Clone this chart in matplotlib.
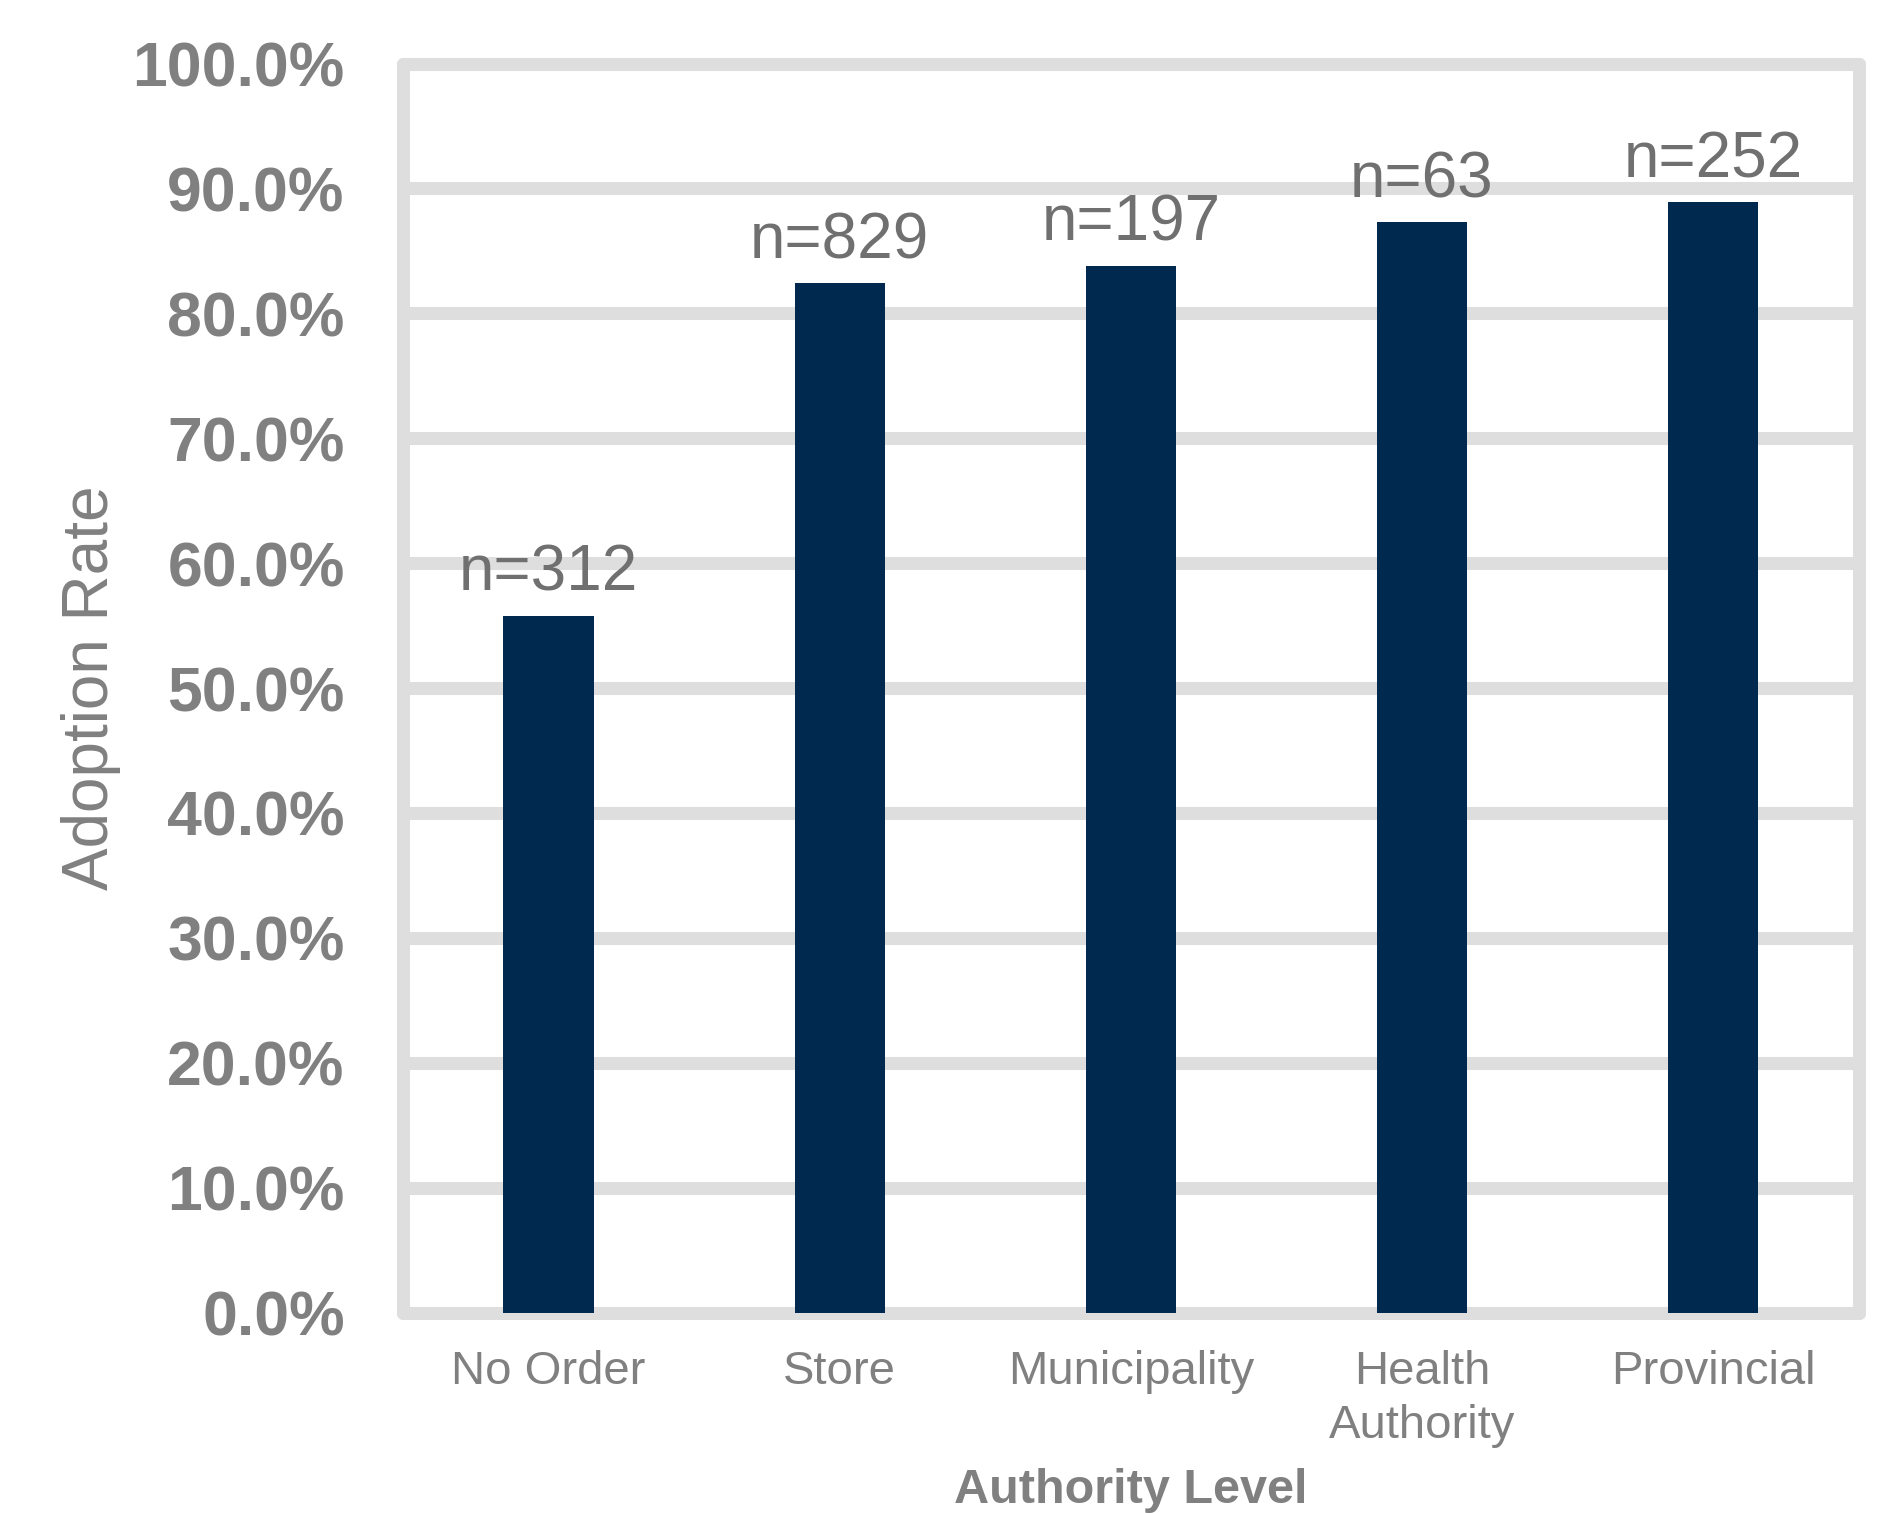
import matplotlib
matplotlib.use("Agg")
import matplotlib.pyplot as plt
from matplotlib.ticker import PercentFormatter

# adoption rate by the level of authority that issued the order
levels = ["No Order", "Store", "Municipality", "Health\nAuthority", "Provincial"]
adoption = [55.8, 82.4, 83.8, 87.3, 88.9]
sample_sizes = [312, 829, 197, 63, 252]
y_ticks = [0, 10, 20, 30, 40, 50, 60, 70, 80, 90, 100]

navy = "#00294F"
grid_grey = "#DEDEDE"
text_grey = "#808080"
label_grey = "#707070"

plt.rcParams["font.family"] = ["Liberation Sans", "DejaVu Sans"]

fig = plt.figure(figsize=(19, 15.13), dpi=100)
ax = fig.add_axes([0.2121, 0.1325, 0.7663, 0.8255])

x = range(len(levels))
ax.bar(x, adoption, width=0.31, color=navy, zorder=3)

for xi, val, n in zip(x, adoption, sample_sizes):
    ax.annotate(f"n={n}", (xi, val), xytext=(0, 18), textcoords="offset points",
                ha="center", va="baseline", fontsize=46, color=label_grey)

ax.set_xlim(-0.5, len(levels) - 0.5)
ax.set_ylim(0, 100)
ax.set_yticks(y_ticks)
ax.yaxis.set_major_formatter(PercentFormatter(decimals=1))
ax.set_xticks(list(x))
ax.set_xticklabels(levels, linespacing=1.28)

ax.set_axisbelow(True)
ax.grid(axis="y", color=grid_grey, linewidth=9.4)
ax.grid(axis="x", visible=False)

# thick rounded frame around the plot area
for spine in ax.spines.values():
    spine.set_color(grid_grey)
    spine.set_linewidth(9.4)
    spine.set_capstyle("round")

ax.tick_params(axis="both", length=0)
ax.tick_params(axis="x", pad=27, labelsize=34, labelcolor=text_grey)
ax.tick_params(axis="y", pad=42, labelcolor=text_grey)
for lbl in ax.get_yticklabels():
    lbl.set_family(["Liberation Sans Narrow", "Liberation Sans"])
    lbl.set_fontsize(45)
    lbl.set_fontweight("bold")

fig.text(0.048, 0.5453, "Adoption Rate", rotation=90, ha="center", va="center",
         fontsize=46, color=text_grey)
fig.text(0.595, 0.0066, "Authority Level", ha="center", va="baseline",
         fontsize=35, fontweight="bold", color=text_grey)

fig.savefig("out.png", dpi=100, facecolor="white")
